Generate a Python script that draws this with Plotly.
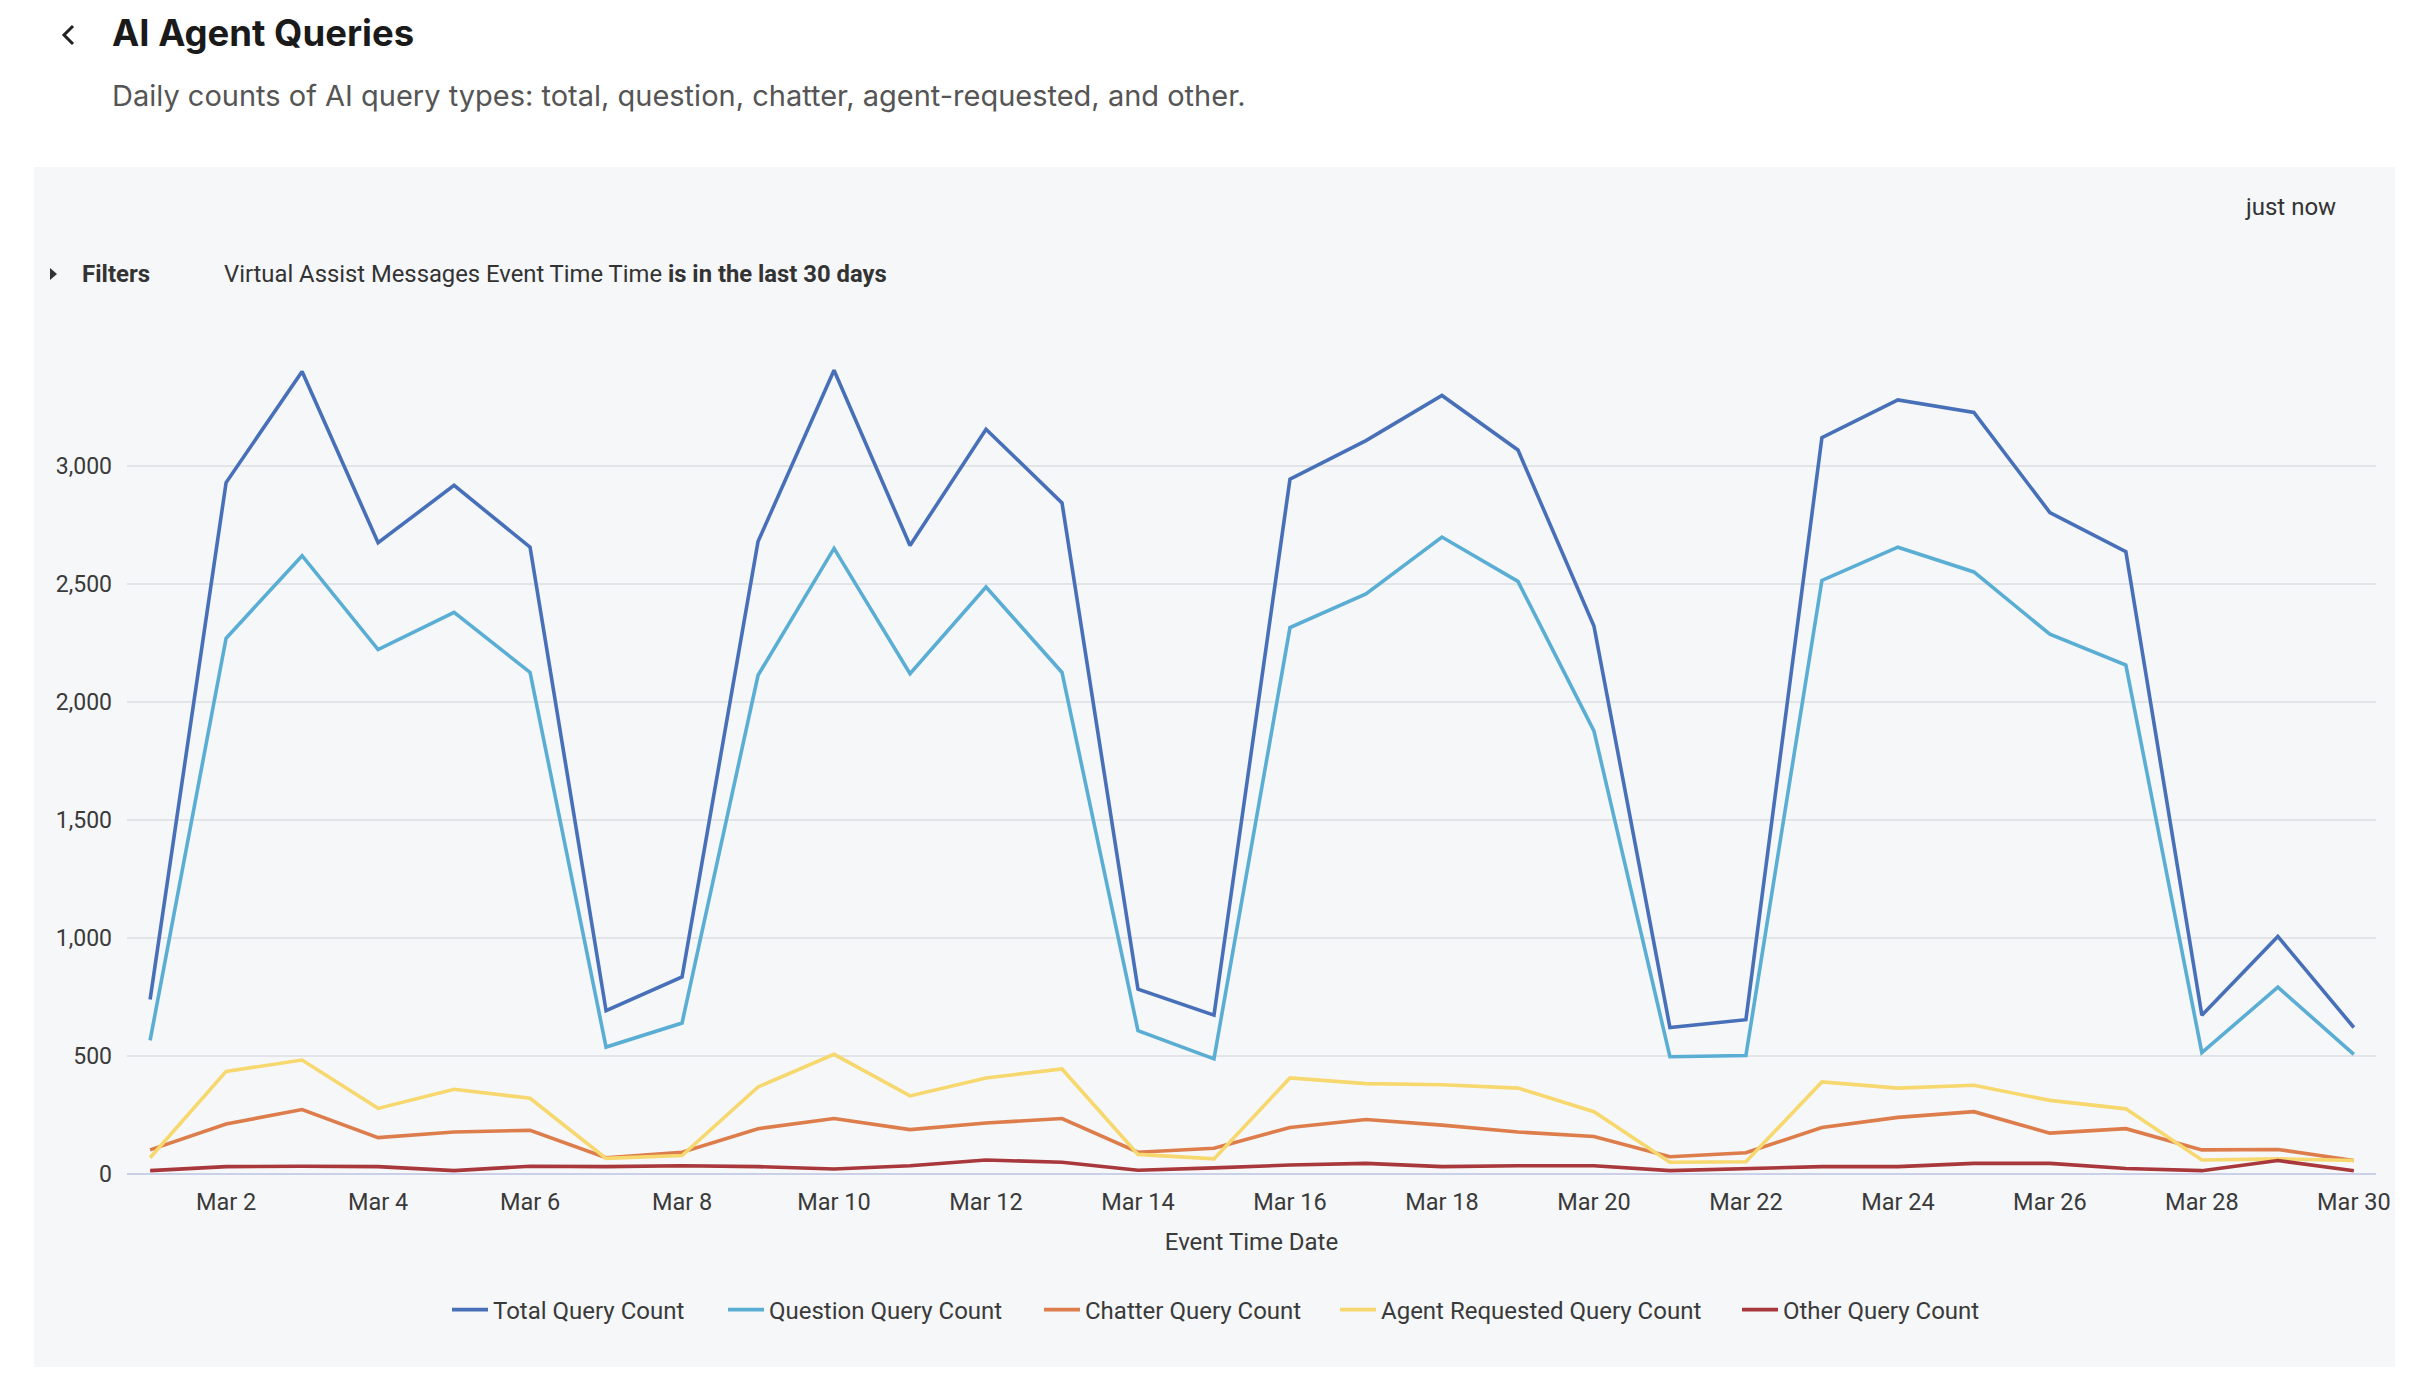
import plotly.graph_objects as go
import pandas as pd

dates = pd.date_range("2026-03-01", "2026-03-30", freq="D")

total = [738, 2929, 3400, 2674, 2917, 2655, 690, 833, 2679, 3405,
         2662, 3155, 2843, 781, 671, 2943, 3107, 3298, 3067, 2321,
         619, 652, 3119, 3279, 3226, 2802, 2636, 671, 1005, 619]
question = [564, 2269, 2619, 2221, 2379, 2124, 536, 638, 2112, 2650,
            2119, 2486, 2124, 605, 486, 2314, 2457, 2698, 2510, 1876,
            495, 500, 2514, 2655, 2550, 2286, 2155, 512, 790, 505]
chatter = [100, 210, 271, 152, 176, 183, 67, 90, 190, 233,
           186, 214, 233, 90, 107, 195, 229, 205, 176, 157,
           71, 88, 195, 238, 262, 171, 190, 100, 102, 55]
agent = [67, 433, 481, 276, 357, 319, 64, 76, 367, 505,
         329, 405, 443, 81, 62, 405, 381, 376, 362, 262,
         48, 50, 388, 362, 374, 310, 274, 57, 62, 55]
other = [12, 29, 31, 29, 12, 31, 29, 33, 29, 19,
         33, 57, 48, 14, 24, 36, 43, 29, 33, 33,
         12, 21, 29, 29, 43, 43, 21, 12, 55, 12]

series_names = ["Total Query Count", "Question Query Count", "Chatter Query Count",
                "Agent Requested Query Count", "Other Query Count"]
series_values = [total, question, chatter, agent, other]
colors = ["#4870B9", "#5AAED4", "#DD7D4B", "#F6D86E", "#A8383B"]

y_ticks = [0, 500, 1000, 1500, 2000, 2500, 3000]

W, H = 2428, 1386
def px(x):
    return x / W
def py(y):
    return 1 - y / H

legend_ids = ["legend", "legend2", "legend3", "legend4", "legend5"]
legend_sym_x = [452, 728, 1044, 1340, 1742]

fig = go.Figure()
for name, vals, c, lid in zip(series_names, series_values, colors, legend_ids):
    fig.add_trace(go.Scatter(x=dates, y=vals, name=name, mode="lines",
                             line=dict(color=c, width=3.6), legend=lid))

tick_font = dict(family="Roboto", size=23, color="#3a3a3a")
legend_font = dict(family="Roboto", size=24, color="#3a3a3a")

layout_legends = {}
for lid, sx in zip(legend_ids, legend_sym_x):
    layout_legends[lid] = dict(
        orientation="h", x=px(sx - 5), xanchor="left", y=py(1310), yanchor="middle",
        font=legend_font, bgcolor="rgba(0,0,0,0)", itemwidth=36,
    )

fig.update_layout(
    width=W, height=H,
    margin=dict(l=0, r=0, t=0, b=0),
    paper_bgcolor="white",
    plot_bgcolor="rgba(0,0,0,0)",
    showlegend=True,
    xaxis=dict(
        domain=[px(127), px(2376)],
        range=[dates[0] - pd.Timedelta(hours=7.3), dates[-1] + pd.Timedelta(hours=7.0)],
        tick0="2026-03-02", dtick=86400000 * 2, tickformat="%b %-d",
        showgrid=False, zeroline=False, showline=False, ticks="",
        tickfont=dict(family="Roboto", size=23.5, color="#3a3a3a"), ticklabelstandoff=12,
        title=dict(text="Event Time Date", font=dict(family="Roboto", size=24, color="#3a3a3a"), standoff=18),
        automargin=False,
    ),
    yaxis=dict(
        domain=[py(1173.5), py(1173.5 - 3600 * 0.2359)],
        range=[0, 3600],
        tickvals=y_ticks, tickformat=",",
        showgrid=True, gridcolor="#e3e4e8", gridwidth=1.5,
        zeroline=True, zerolinecolor="#c9d0e8", zerolinewidth=2,
        showline=False, ticks="",
        tickfont=tick_font, ticklabelstandoff=14,
        automargin=False,
    ),
    font=dict(family="Roboto"),
    **layout_legends,
)

shapes = [
    dict(type="rect", xref="paper", yref="paper", x0=px(34), x1=px(2395), y0=py(1367), y1=py(167),
         fillcolor="#f6f7f9", line=dict(width=0), layer="below"),
    dict(type="path", xref="paper", yref="paper",
         path=f"M {px(73)} {py(26)} L {px(64)} {py(35)} L {px(73)} {py(44)}",
         line=dict(color="#222222", width=3)),
    dict(type="path", xref="paper", yref="paper",
         path=f"M {px(50)} {py(268)} L {px(50)} {py(280)} L {px(57)} {py(274)} Z",
         fillcolor="#333333", line=dict(width=0)),
]
fig.update_layout(shapes=shapes)

annos = [
    dict(text="<b>AI Agent Queries</b>", x=px(110), y=py(33),
         font=dict(family="Inter", size=36.5, color="#1a1a1a")),
    dict(text="Daily counts of AI query types: total, question, chatter, agent-requested, and other.",
         x=px(110), y=py(96), font=dict(family="Inter", size=29, color="#555555")),
    dict(text="<b>Filters</b>", x=px(80), y=py(274),
         font=dict(family="Roboto", size=24, color="#333333")),
    dict(text="Virtual Assist Messages Event Time Time <b>is in the last 30 days</b>", x=px(222), y=py(274),
         font=dict(family="Roboto", size=23.8, color="#333333")),
    dict(text="just now", x=px(2338), y=py(207), xanchor="right",
         font=dict(family="Roboto", size=24, color="#333333")),
]
for a in annos:
    a.setdefault("xanchor", "left")
    fig.add_annotation(xref="paper", yref="paper", yanchor="middle", showarrow=False, **a)

fig.write_html("out.html", config={"displayModeBar": False},
               post_script="document.body.style.margin='0px';")
